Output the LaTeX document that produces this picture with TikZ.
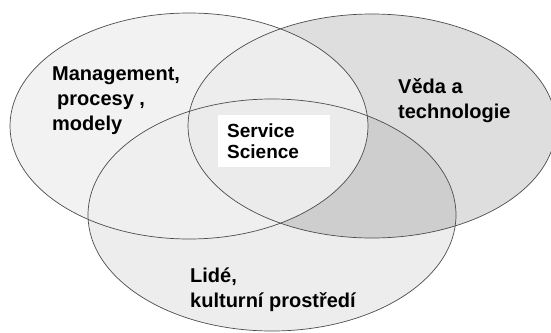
\documentclass[tikz,border=0pt]{standalone}
\usepackage{fontspec}
\setmainfont{Liberation Sans}
\definecolor{mgmtgray}{HTML}{F0F0F0}
\tikzstyle{area_text} = [anchor=base west, align=left, inner sep=0pt, font=\fontsize{20}{25}\selectfont\bfseries]
\tikzstyle{core_box} = [anchor=north west, fill=white, text width=94pt, inner xsep=9pt, inner ysep=8.5pt, align=left, font=\fontsize{19}{21}\selectfont\bfseries]
\tikzstyle{set_line} = [draw=black!70, line width=0.7pt]

\begin{document}
\begin{tikzpicture}[x=1pt, y=-1pt]
		\useasboundingbox (0,0) rectangle (551,332);
		\clip (0,0) rectangle (551,332);
		% the three sets, filled first
		\fill [black, fill opacity=0.13] (372,126) ellipse [x radius=184, y radius=112];
		\fill [black, fill opacity=0.07] (272,215) ellipse [x radius=184, y radius=116];
		\fill [mgmtgray, fill opacity=0.85] (189,126) ellipse [x radius=179, y radius=113];
		% outlines on top
		\draw [set_line] (372,126) ellipse [x radius=184, y radius=112];
		\draw [set_line] (272,215) ellipse [x radius=184, y radius=116];
		\draw [set_line] (189,126) ellipse [x radius=179, y radius=113];

		% base anchor sits on the last line
		\node (mgmt) [area_text] at (52,130) {Management,\\\hspace*{5pt}procesy ,\\modely};
		\node (veda) [area_text] at (398,118) {Věda a\\technologie};
		\node (lide) [area_text] at (190,307) {Lidé,\\kulturní prostředí};
		\node (core) [core_box] at (218,115) {Service\\Science};
\end{tikzpicture}
\end{document}
